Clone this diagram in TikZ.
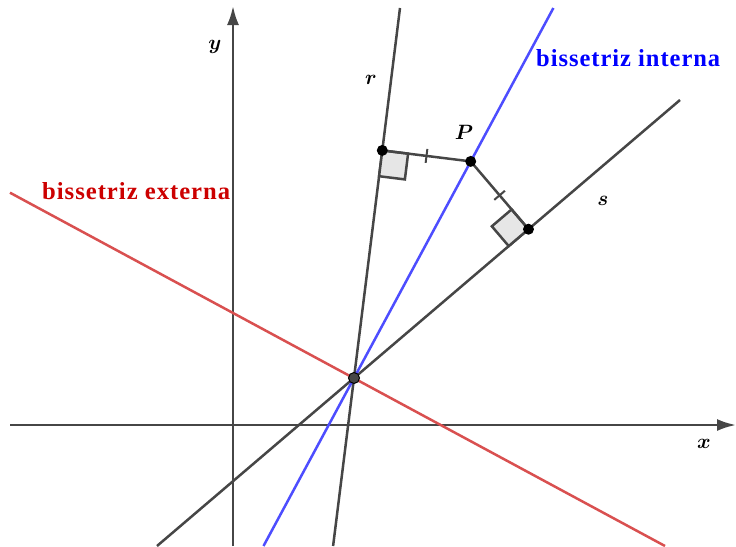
\documentclass[tikz,border=0pt]{standalone}
\usepackage{fontspec}
\usepackage{bm}
\usetikzlibrary{calc,arrows.meta}
\newfontfamily\labfont[LetterSpace=4]{Liberation Serif}
\definecolor{ln}{RGB}{70,70,70}
\definecolor{bl}{RGB}{77,77,255}
\definecolor{rd}{RGB}{217,80,80}
\definecolor{rdt}{RGB}{204,0,0}
\definecolor{blt}{RGB}{0,0,255}
\definecolor{sq}{RGB}{230,230,230}
\tikzset{
  axis/.style={draw=ln,line width=2.5pt,-{Latex[length=19pt,width=12pt]}},
  gline/.style={draw=ln,line width=2.5pt},
  bline/.style={draw=bl,line width=2.5pt},
  rline/.style={draw=rd,line width=2.5pt},
  rsq/.style={draw=ln,fill=sq,line width=2.5pt,line join=miter},
  tick/.style={draw=ln,line width=2pt},
  dot/.style={circle,fill=black,inner sep=0pt,minimum size=11pt},
  odot/.style={circle,fill=ln,draw=black,line width=1pt,inner sep=0pt,minimum size=11pt},
  mlab/.style={inner sep=0pt,font=\fontsize{20}{24}\selectfont},
  tlab/.style={inner sep=0pt,anchor=base west}
}
\begin{document}
\begin{tikzpicture}[x=1pt,y=-1pt]
\useasboundingbox (0,0) rectangle (736,546);
% key points
\coordinate (O) at (354,378);
\coordinate (Rtop) at (400,8);
\coordinate (Rbot) at (333.1,546);
\coordinate (Stop) at (680,100);
\coordinate (Sbot) at (157,546);
\coordinate (Btop) at (553.4,8);
\coordinate (Bbot) at (263.5,546);
\coordinate (El) at (10,192.7);
\coordinate (Er) at (665,546);
\coordinate (P) at (470.7,161.4);
\coordinate (F1) at ($(O)!(P)!(Rtop)$);
\coordinate (F2) at ($(O)!(P)!(Stop)$);
% axes
\coordinate (xl) at (10,425);
\coordinate (xr) at (736,425);
\coordinate (yb) at (233,546);
\coordinate (yt) at (233,6);
\draw[axis] (xl) -- (xr);
\draw[axis] (yb) -- (yt);
% lines
\draw[rline] (El) -- (Er);
\draw[gline] (Rbot) -- (Rtop);
\draw[gline] (Sbot) -- (Stop);
\draw[bline] (Bbot) -- (Btop);
% right-angle squares
\coordinate (A1) at ($(F1)!26pt!(O)$);
\coordinate (C1) at ($(F1)!26pt!(P)$);
\coordinate (D1) at ($(A1)+(C1)-(F1)$);
\draw[rsq] (F1) -- (A1) -- (D1) -- (C1) -- cycle;
\coordinate (A2) at ($(F2)!26pt!(O)$);
\coordinate (C2) at ($(F2)!26pt!(P)$);
\coordinate (D2) at ($(A2)+(C2)-(F2)$);
\draw[rsq] (F2) -- (A2) -- (D2) -- (C2) -- cycle;
% distance segments
\draw[gline] (F1) -- (P) -- (F2);
% tick marks
\coordinate (M1) at ($(F1)!0.5!(P)$);
\coordinate (M2) at ($(F2)!0.5!(P)$);
\draw[tick] ($(M1)!7pt!90:(P)$) -- ($(M1)!7pt!-90:(P)$);
\draw[tick] ($(M2)!7pt!90:(P)$) -- ($(M2)!7pt!-90:(P)$);
% points
\node[odot] (nO) at (O) {};
\node[dot] (nF1) at (F1) {};
\node[dot] (nF2) at (F2) {};
\node[dot] (nP) at (P) {};
% labels
\node[mlab] (ly) at (215,47) {$\bm{y}$};
\node[mlab] (lx) at (704,444) {$\bm{x}$};
\node[mlab] (lr) at (371,80) {$\bm{r}$};
\node[mlab] (ls) at (603,201) {$\bm{s}$};
\node[mlab] (lP) at (464,132) {$\bm{P}$};
\node[tlab,text=blt] (li) at (536,66) {\resizebox{184pt}{17pt}{\labfont\bfseries bissetriz interna}};
\node[tlab,text=rdt] (le) at (42,199) {\resizebox{188pt}{17pt}{\labfont\bfseries bissetriz externa}};
\end{tikzpicture}
\end{document}
